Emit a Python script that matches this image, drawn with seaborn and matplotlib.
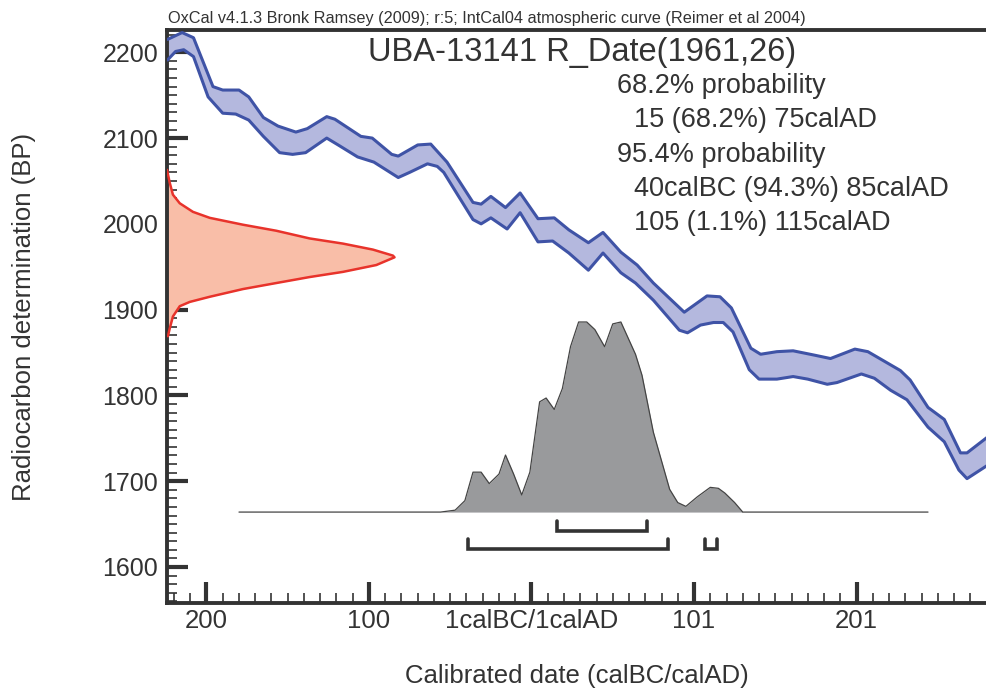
import numpy as np
import seaborn as sns
import matplotlib.pyplot as plt
from matplotlib.ticker import MultipleLocator

# ---- data ----
# calibration curve (IntCal04), upper and lower edge of the 1-sigma band
upper_year = [-224, -215, -208, -196, -190, -180, -174, -165, -156, -145, -138, -126, -121,
              -105, -98, -86, -82, -70, -62, -52, -36, -31, -25, -16, -7, 4, 14, 23, 35, 44,
              55, 65, 75, 94, 108, 116, 123, 135, 141, 151, 161, 174, 184, 199, 207, 227, 233,
              244, 254, 264, 268, 281]
upper_bp = [2215, 2223, 2217, 2160, 2156, 2156, 2148, 2124, 2114, 2107, 2111, 2125, 2122,
            2102, 2100, 2081, 2079, 2092, 2093, 2072, 2025, 2023, 2032, 2019, 2036, 2006, 2007,
            1993, 1978, 1990, 1967, 1952, 1931, 1897, 1916, 1915, 1902, 1855, 1848, 1851, 1852,
            1847, 1843, 1854, 1851, 1829, 1818, 1786, 1772, 1733, 1733, 1752]
lower_year = [-224, -219, -214, -208, -199, -190, -182, -174, -165, -155, -147, -139, -126,
              -119, -107, -97, -82, -75, -64, -58, -54, -36, -31, -25, -15, -7, 4, 13, 23, 35,
              44, 55, 64, 75, 91, 96, 104, 112, 118, 124, 134, 140, 151, 161, 170, 182, 188,
              203, 211, 221, 231, 244, 254, 263, 268, 281]
lower_bp = [2191, 2201, 2203, 2195, 2148, 2129, 2128, 2121, 2102, 2083, 2081, 2083, 2100,
            2092, 2078, 2072, 2054, 2060, 2070, 2067, 2060, 2005, 2000, 2007, 1994, 2013, 1979,
            1980, 1966, 1946, 1966, 1943, 1931, 1911, 1876, 1873, 1882, 1885, 1885, 1874, 1830,
            1819, 1819, 1822, 1819, 1813, 1815, 1825, 1820, 1806, 1795, 1763, 1746, 1713, 1703,
            1719]

# radiocarbon measurement R_Date(1961,26) (relative density)
rdate_bp = [2063, 2048, 2034, 2024, 2014, 2007, 1999, 1992, 1983, 1977, 1970, 1963, 1961,
            1952, 1944, 1938, 1931, 1924, 1915, 1909, 1904, 1892, 1878, 1869]
rdate_dens = [0, 0.012, 0.026, 0.056, 0.114, 0.188, 0.334, 0.48, 0.627, 0.773, 0.905, 0.993,
              1.0, 0.92, 0.773, 0.627, 0.48, 0.334, 0.188, 0.10, 0.056, 0.026, 0.012, 0.004]

# calibrated distribution (relative probability)
cal_year = [-180, -56, -47, -41, -36, -31, -26, -20, -16, -11, -6, -1, 5, 9, 14, 19, 24, 29,
            34, 39, 45, 50, 55, 64, 68, 75, 85, 90, 95, 102, 110, 115, 119, 125, 130, 244]
cal_prob = [0, 0, 0.01, 0.06, 0.21, 0.21, 0.15, 0.20, 0.30, 0.20, 0.09, 0.21, 0.58, 0.60,
            0.54, 0.65, 0.87, 1.0, 1.0, 0.96, 0.87, 0.99, 1.0, 0.83, 0.72, 0.42, 0.12, 0.05,
            0.03, 0.08, 0.13, 0.125, 0.10, 0.05, 0.0, 0]

# ranges (as drawn)
range68 = [(16, 71)]
range95 = [(-39, 84), (107, 114)]

tick_pos = [-200, -100, 0, 100, 200]
tick_lab = ["200", "100", "1calBC/1calAD", "101", "201"]

info_head = ["68.2% probability", "95.4% probability"]
info_rows = ["15 (68.2%) 75calAD", "40calBC (94.3%) 85calAD", "105 (1.1%) 115calAD"]

# ---- figure ----
sns.set_theme(style="white")
plt.rcParams["font.family"] = ["Liberation Sans", "DejaVu Sans"]
txt = "#333333"
W, H = 987, 688
fig = plt.figure(figsize=(W / 100, H / 100), dpi=100)
ax = fig.add_axes([167 / W, 1 - 603 / H, 1 - 167 / W, (603 - 30) / H])
xmin, xmax = -224.3, 280.3
ax.set_xlim(xmin, xmax)
ax.set_ylim(1558, 2226)

# calibration curve band
band_x = upper_year + lower_year[::-1]
band_y = upper_bp + lower_bp[::-1]
ax.fill(band_x, band_y, color="#b4b8de", lw=0, zorder=2)
sns.lineplot(x=upper_year, y=upper_bp, sort=False, estimator=None, color="#3f53a6", lw=2.2, ax=ax, zorder=3)
sns.lineplot(x=lower_year, y=lower_bp, sort=False, estimator=None, color="#3f53a6", lw=2.2, ax=ax, zorder=3)

# measurement on the y axis
r_width = 140
r_x = [xmin + d * r_width for d in rdate_dens]
ax.fill_betweenx(rdate_bp, xmin, r_x, color="#f9bea8", lw=0, zorder=2)
ax.plot(r_x, rdate_bp, color="#e8332b", lw=1.8, zorder=3)

# calibrated distribution
base = 1664
scale = 221.6
cal_y = [base + p * scale for p in cal_prob]
ax.fill_between(cal_year, base, cal_y, color="#999a9c", lw=0, zorder=2)
ax.plot(cal_year, cal_y, color="#444444", lw=0.9, zorder=3)

# range brackets
def bracket(r, y, h=11.5):
    for a, b in r:
        ax.plot([a, a, b, b], [y + h, y, y, y + h], color="#333333", lw=2.6,
                solid_joinstyle="miter", zorder=3)

bracket(range68, 1642.5)
bracket(range95, 1621)

# axes styling
for s in ["left", "bottom", "top"]:
    ax.spines[s].set_color(txt)
    ax.spines[s].set_linewidth(2.8)
ax.spines["right"].set_visible(False)
ax.set_xticks(tick_pos)
ax.set_xticklabels(tick_lab)
ax.xaxis.set_minor_locator(MultipleLocator(10))
ax.yaxis.set_major_locator(MultipleLocator(100))
ax.yaxis.set_minor_locator(MultipleLocator(10))
ax.tick_params(which="major", direction="in", length=15, width=3, color=txt,
               labelsize=18, labelcolor=txt, left=True, bottom=True)
ax.tick_params(axis="x", which="major", pad=4.5, labelsize=18.5)
ax.tick_params(axis="y", which="major", pad=6.3)
ax.tick_params(which="minor", direction="in", length=7, width=1.2, color=txt,
               left=True, bottom=True)
ax.set_ylabel("Radiocarbon determination (BP)", fontsize=18.5, color=txt, labelpad=48)
ax.set_xlabel("Calibrated date (calBC/calAD)", fontsize=18.5, color=txt, labelpad=22)

# texts
fig.text(168 / W, 1 - 18 / H,
         "OxCal v4.1.3 Bronk Ramsey (2009); r:5; IntCal04 atmospheric curve (Reimer et al 2004)",
         fontsize=11.7, color=txt, ha="left", va="center")
fig.text(582 / W, 1 - 52 / H, "UBA-13141 R_Date(1961,26)", fontsize=23.5, color=txt,
         ha="center", va="center")
for line, yy in zip(info_head, [86, 155]):
    fig.text(617 / W, 1 - yy / H, line, fontsize=19.5, color=txt, ha="left", va="center")
for line, yy in zip(info_rows, [120, 189, 223]):
    fig.text(634 / W, 1 - yy / H, line, fontsize=19.5, color=txt, ha="left", va="center")

fig.savefig("out.png", dpi=100)
